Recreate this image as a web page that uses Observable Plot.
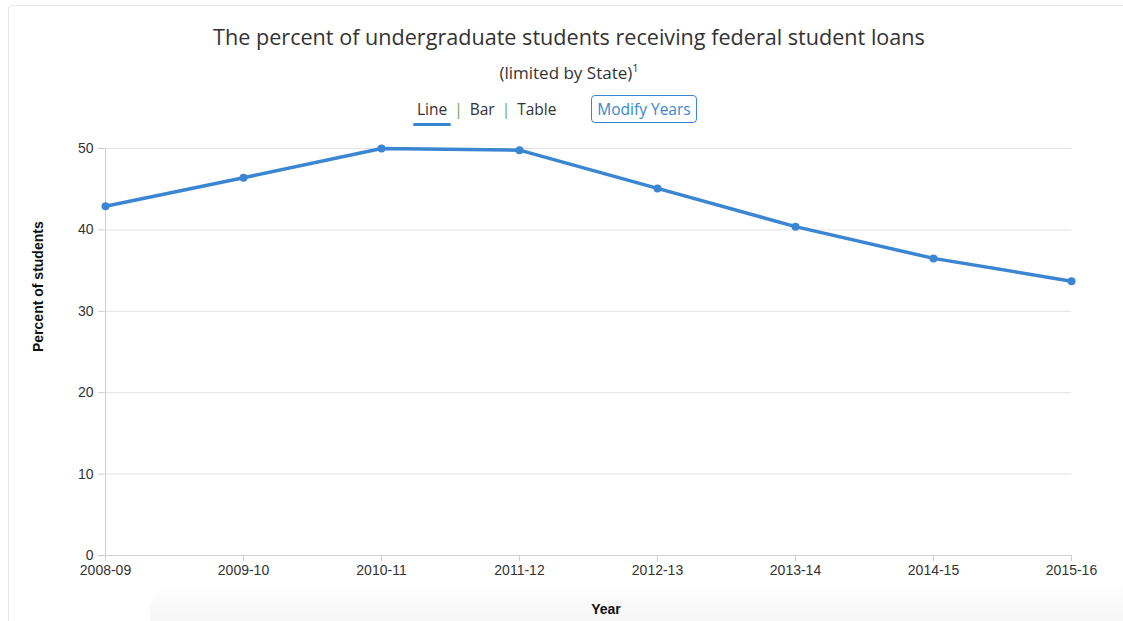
<!DOCTYPE html>
<html>
<head>
<meta charset="utf-8">
<script src="https://cdn.jsdelivr.net/npm/d3@7"></script>
<script src="https://cdn.jsdelivr.net/npm/@observablehq/plot@0.6"></script>
<style>
  html, body { margin: 0; padding: 0; background: #fff; }
  body { width: 1123px; height: 621px; overflow: hidden; position: relative; font-family: "Open Sans", sans-serif; }
  #card { position: absolute; left: 8px; top: 5px; width: 1200px; height: 700px; border: 1px solid #e8e8e8; border-radius: 4px; box-sizing: border-box; pointer-events: none; }
  #shadow { position: absolute; left: 150px; top: 582px; width: 1000px; height: 60px; background: linear-gradient(to bottom, rgba(255,255,255,0), rgba(238,238,238,0.8)); border-radius: 30px 0 0 0; pointer-events: none; z-index: 0; }
  #header { position: relative; height: 130px; z-index: 1; }
  #title { position: absolute; top: 22px; left: 0; width: 1138px; text-align: center; font-size: 21.6px; color: #333; }
  #subtitle { position: absolute; top: 60px; left: 0; width: 1138px; text-align: center; font-size: 17px; color: #333; }
  #subtitle sup { font-size: 11px; }
  #controls { position: absolute; top: 98px; left: 417px; font-size: 15.5px; color: #333; white-space: nowrap; }
  #controls .sep { color: #6aa84f; margin: 0 7px; }
  #controls .active { position: relative; }
  #controls .active::after { content: ""; position: absolute; left: -4px; right: -4px; bottom: -6px; height: 3px; background: #3a86d3; border-radius: 2px; }
  #modify { position: absolute; top: 95px; left: 591px; width: 104px; height: 26px; border: 1px solid #3a86d3; border-radius: 4px; color: #3a86d3; font-size: 15.5px; text-align: center; line-height: 26px; }
  #chart { position: relative; z-index: 1; }
</style>
</head>
<body>
<div id="card"></div>
<div id="shadow"></div>
<div id="header">
  <div id="title">The percent of undergraduate students receiving federal student loans</div>
  <div id="subtitle">(limited by State)<sup>1</sup></div>
  <div id="controls"><span class="active">Line</span><span class="sep">|</span>Bar<span class="sep">|</span>Table</div>
  <div id="modify">Modify Years</div>
</div>
<div id="chart"></div>
<script>
const years = ["2008-09", "2009-10", "2010-11", "2011-12", "2012-13", "2013-14", "2014-15", "2015-16"];
const percents = [42.9, 46.4, 50.0, 49.8, 45.1, 40.4, 36.5, 33.7];
const yTicks = [0, 10, 20, 30, 40, 50];

const data = years.map((y, i) => ({year: y, value: percents[i]}));
const blue = "#3a86d3";

const chart = Plot.plot({
  width: 1123,
  height: 491,
  marginTop: 18,
  marginBottom: 66,
  marginLeft: 104,
  marginRight: 52,
  style: {fontFamily: "'Liberation Sans', Arial, sans-serif", fontSize: "14px", color: "#333", background: "transparent"},
  x: {type: "point", domain: years, padding: 0, label: null},
  y: {domain: [0, 50], ticks: yTicks, label: null},
  marks: [
    Plot.gridY(yTicks, {stroke: "#e3e3e3", strokeOpacity: 1}),
    Plot.ruleX([years[0]], {stroke: "#cfcfcf"}),
    Plot.ruleY([0], {stroke: "#cfcfcf"}),
    Plot.axisY({ticks: yTicks, tickSize: 6, tickPadding: 5, stroke: "#cfcfcf", label: null, fill: "#333", fontSize: 14}),
    Plot.axisX({tickSize: 6, tickPadding: 4, stroke: "#cfcfcf", label: null, fill: "#333", fontSize: 14}),
    Plot.line(data, {x: "year", y: "value", stroke: blue, strokeWidth: 3.5}),
    Plot.dot(data, {x: "year", y: "value", fill: blue, r: 4}),
    Plot.text(["Percent of students"], {frameAnchor: "left", dx: -66, rotate: -90, fontWeight: "bold", fontSize: 14, fill: "#111"}),
    Plot.text(["Year"], {frameAnchor: "bottom", dy: 58, dx: 18, fontWeight: "bold", fontSize: 14, fill: "#111"})
  ]
});
document.getElementById("chart").appendChild(chart);
</script>
</body>
</html>
